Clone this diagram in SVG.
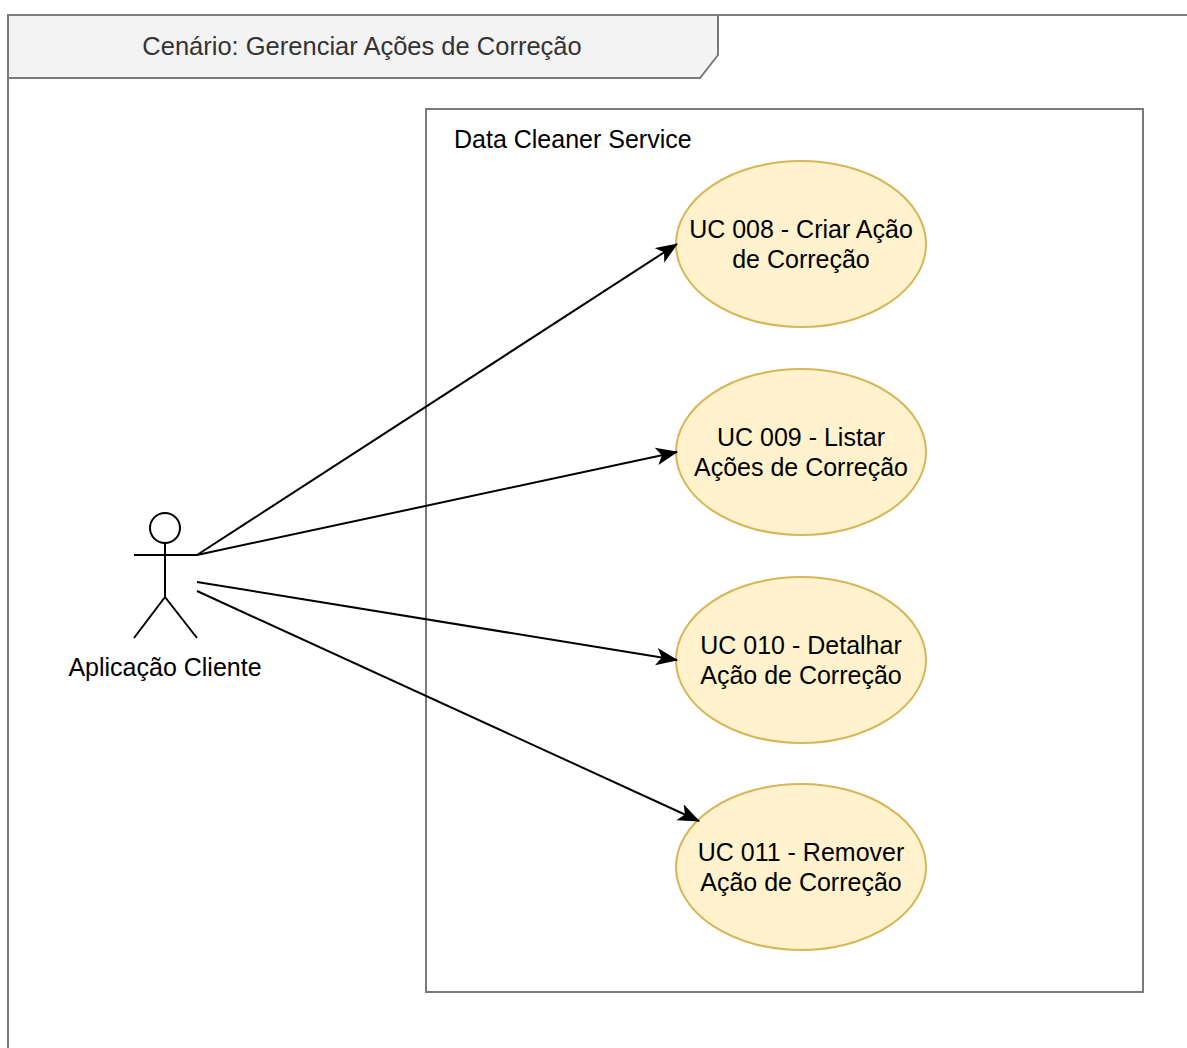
<svg xmlns="http://www.w3.org/2000/svg" width="1187" height="1048" viewBox="0 0 1187 1048">
  <defs>
    <style>
      .frame { fill: none; stroke: #7a7a7a; stroke-width: 2; }
      .tab { fill: #f3f3f3; stroke: #7a7a7a; stroke-width: 2; }
      .box { fill: #ffffff; stroke: #7a7a7a; stroke-width: 2; }
      .uc { fill: #fff2cc; stroke: #d6b656; stroke-width: 2; }
      .actor { fill: none; stroke: #000000; stroke-width: 2; }
      .edge { fill: none; stroke: #000000; stroke-width: 2; }
      .t { font-family: "Liberation Sans", Arial, sans-serif; font-size: 25px; fill: #000000; }
      .title { font-family: "Liberation Sans", Arial, sans-serif; font-size: 25.5px; fill: #333333; }
    </style>
    <marker id="head" viewBox="0 0 20 16" refX="19" refY="8" markerWidth="22" markerHeight="18" orient="auto" markerUnits="userSpaceOnUse">
      <path d="M0,0 L20,8 L0,16 L5,8 Z" fill="#000000"/>
    </marker>
  </defs>

  <rect width="1187" height="1048" fill="#ffffff"/>

  <!-- scenario frame -->
  <g id="frame">
    <path class="frame" d="M8,1060 L8,15 L1200,15"/>
    <path class="tab" d="M8,15 L718,15 L718,55 L700,78 L8,78 Z"/>
    <text class="title" x="362" y="55" text-anchor="middle">Cenário: Gerenciar Ações de Correção</text>
  </g>

  <!-- system boundary -->
  <g id="system">
    <rect class="box" x="426" y="109" width="717" height="883"/>
    <text class="t" x="454" y="148">Data Cleaner Service</text>
  </g>

  <!-- actor -->
  <g id="actor">
    <circle class="actor" cx="165" cy="528" r="15"/>
    <line class="actor" x1="165" y1="543" x2="165" y2="597"/>
    <line class="actor" x1="134" y1="555" x2="197" y2="555"/>
    <line class="actor" x1="165" y1="597" x2="134" y2="638"/>
    <line class="actor" x1="165" y1="597" x2="197" y2="638"/>
    <text class="t" x="165" y="676" text-anchor="middle">Aplicação Cliente</text>
  </g>

  <!-- use cases -->
  <g id="uc008">
    <ellipse class="uc" cx="801" cy="244" rx="125" ry="83"/>
    <text class="t" x="801" y="238" text-anchor="middle">UC 008 - Criar Ação</text>
    <text class="t" x="801" y="268" text-anchor="middle">de Correção</text>
  </g>
  <g id="uc009">
    <ellipse class="uc" cx="801" cy="452" rx="125" ry="83"/>
    <text class="t" x="801" y="446" text-anchor="middle">UC 009 - Listar</text>
    <text class="t" x="801" y="476" text-anchor="middle">Ações de Correção</text>
  </g>
  <g id="uc010">
    <ellipse class="uc" cx="801" cy="660" rx="125" ry="83"/>
    <text class="t" x="801" y="654" text-anchor="middle">UC 010 - Detalhar</text>
    <text class="t" x="801" y="684" text-anchor="middle">Ação de Correção</text>
  </g>
  <g id="uc011">
    <ellipse class="uc" cx="801" cy="867" rx="125" ry="83"/>
    <text class="t" x="801" y="861" text-anchor="middle">UC 011 - Remover</text>
    <text class="t" x="801" y="891" text-anchor="middle">Ação de Correção</text>
  </g>

  <!-- associations -->
  <g id="connectors">
    <line class="edge" x1="197" y1="555" x2="677" y2="244" marker-end="url(#head)"/>
    <line class="edge" x1="197" y1="555" x2="677" y2="452" marker-end="url(#head)"/>
    <line class="edge" x1="197" y1="582" x2="677" y2="660" marker-end="url(#head)"/>
    <line class="edge" x1="197" y1="591" x2="699" y2="821" marker-end="url(#head)"/>
  </g>
</svg>
